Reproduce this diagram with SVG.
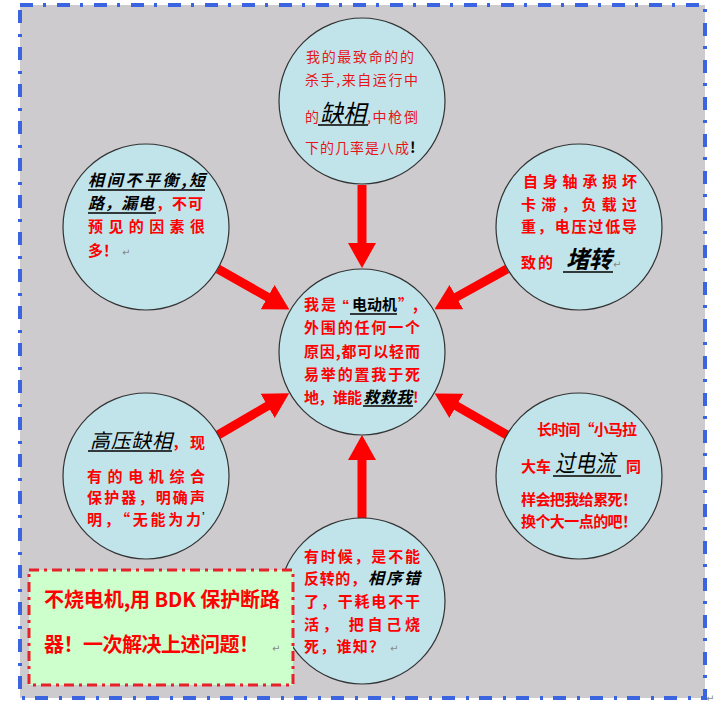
<svg xmlns="http://www.w3.org/2000/svg" width="724" height="713" viewBox="0 0 724 713">
<defs>
<style>
text{font-family:"Noto Sans CJK SC","Noto Sans CJK JP",sans-serif}
.c{fill:#c1e4eb;stroke:#333;stroke-width:1.2}
.r{fill:#f00;font-weight:bold;font-size:15px}
.rt{fill:#e8141a;font-size:14px}
.k{fill:#000;font-style:italic;font-weight:bold;font-size:16px}
.kb{fill:#000;font-style:italic;font-size:24px}
.p{fill:#888;font-size:10px;font-family:"DejaVu Sans",sans-serif}
.ul{stroke:#000;stroke-width:1.3}
.ar{stroke:#f00;stroke-width:9;fill:none;marker-end:url(#ah)}
.g{fill:#f00;font-weight:bold;font-size:20px}
</style>
<marker id="ah" viewBox="0 0 25 28" refX="1" refY="14" markerWidth="25" markerHeight="28" markerUnits="userSpaceOnUse" orient="auto">
<path d="M0,0 L25,14 L0,28 z" fill="#f00"/>
</marker>
</defs>
<rect x="0" y="0" width="724" height="713" fill="#fff"/>
<rect id="frame" x="20" y="5" width="685" height="693" fill="#cecbce" stroke="#3b64e0" stroke-width="4" stroke-dasharray="13 10 3 11"/>
<text class="p" x="706" y="702">↵</text>

<g id="connectors">
<line class="ar" x1="362" y1="185" x2="362" y2="244"/>
<line class="ar" x1="362" y1="518" x2="362" y2="459"/>
<line class="ar" x1="218" y1="269" x2="268.5" y2="297.6"/>
<line class="ar" x1="507" y1="269" x2="455.5" y2="297.6"/>
<line class="ar" x1="218" y1="435" x2="268.5" y2="405.4"/>
<line class="ar" x1="507" y1="435" x2="455.5" y2="405.4"/>
</g>

<g id="node-top">
<circle class="c" cx="362" cy="101" r="83"/>
<text class="rt" x="306" y="62" textLength="108" lengthAdjust="spacing">我的最致命的的</text>
<text class="rt" x="305" y="85" textLength="113" lengthAdjust="spacing">杀手,来自运行中</text>
<text class="rt" x="305" y="122">的</text>
<text class="kb" x="320" y="122" textLength="46" lengthAdjust="spacingAndGlyphs">缺相</text>
<line class="ul" x1="318" y1="125" x2="368" y2="125"/>
<text class="rt" x="367" y="122" textLength="51" lengthAdjust="spacing">,中枪倒</text>
<text class="rt" x="305" y="153" textLength="104" lengthAdjust="spacing">下的几率是八成</text>
<text x="410" y="153" font-size="15" font-weight="bold" fill="#000">!</text>
</g>

<g id="node-upper-left">
<circle class="c" cx="146" cy="227" r="83"/>
<text class="k" x="88" y="186" textLength="117" lengthAdjust="spacing">相间不平衡,短</text>
<line class="ul" x1="88" y1="190" x2="205" y2="190"/>
<text class="k" x="88" y="209" textLength="66" lengthAdjust="spacing">路，漏电</text>
<line class="ul" x1="88" y1="213" x2="156" y2="213"/>
<text class="r" x="156" y="209" textLength="47" lengthAdjust="spacing">，不可</text>
<text class="r" x="88" y="232" textLength="117" lengthAdjust="spacing">预见的因素很</text>
<text class="r" x="88" y="256">多！</text>
<text class="p" x="122" y="256">↵</text>
</g>

<g id="node-upper-right">
<circle class="c" cx="579" cy="227" r="83"/>
<text class="r" x="523" y="187" textLength="114" lengthAdjust="spacing">自身轴承损坏</text>
<text class="r" x="521" y="210" textLength="116" lengthAdjust="spacing">卡滞，负载过</text>
<text class="r" x="521" y="232" textLength="116" lengthAdjust="spacing">重，电压过低导</text>
<text class="r" x="521" y="268" textLength="32" lengthAdjust="spacing">致的</text>
<text class="kb" x="566" y="268" font-weight="bold" textLength="46" lengthAdjust="spacingAndGlyphs">堵转</text>
<line class="ul" x1="563" y1="272" x2="613" y2="272"/>
<text class="p" x="613" y="268">↵</text>
</g>

<g id="node-center">
<circle class="c" cx="362" cy="352" r="83"/>
<text class="r" x="304" y="310" textLength="32" lengthAdjust="spacing">我是</text>
<text x="342" y="310" font-size="15" font-weight="bold" fill="#f00"><tspan font-family="Liberation Sans, sans-serif">“</tspan><tspan x="352" fill="#000">电动机</tspan></text>
<line class="ul" x1="350" y1="314" x2="397" y2="314"/>
<text class="r" x="398" y="310">”,</text>
<text class="r" x="304" y="333" textLength="116" lengthAdjust="spacing">外围的任何一个</text>
<text class="r" x="304" y="357" textLength="116" lengthAdjust="spacing">原因,都可以轻而</text>
<text class="r" x="304" y="380" textLength="116" lengthAdjust="spacing">易举的置我于死</text>
<text class="r" x="304" y="403" textLength="58" lengthAdjust="spacing">地，谁能</text>
<text class="k" x="363" y="403" font-size="15" textLength="49" lengthAdjust="spacing">救救我</text>
<line class="ul" x1="363" y1="406" x2="413" y2="406"/>
<text class="r" x="413" y="403">!</text>
</g>

<g id="node-lower-left">
<circle class="c" cx="146" cy="476" r="83"/>
<text x="90" y="448" font-size="20" font-style="italic" fill="#000" textLength="82" lengthAdjust="spacing">高压缺相</text>
<line class="ul" x1="88" y1="451" x2="172" y2="451"/>
<text class="r" x="172" y="448" textLength="33" lengthAdjust="spacing">，现</text>
<text class="r" x="87" y="482" textLength="118" lengthAdjust="spacing">有的电机综合</text>
<text class="r" x="87" y="503" textLength="118" lengthAdjust="spacing">保护器，明确声</text>
<text class="r" x="87" y="525" textLength="114" lengthAdjust="spacing">明，“无能为力</text>
<text x="202" y="522" font-size="11" fill="#000">’</text>
</g>

<g id="node-lower-right">
<circle class="c" cx="579" cy="476" r="83"/>
<text class="r" x="537" y="435" textLength="100" lengthAdjust="spacing">长时间“小马拉</text>
<text class="r" x="521" y="472" textLength="30" lengthAdjust="spacing">大车</text>
<text class="kb" x="555" y="472" textLength="60" lengthAdjust="spacingAndGlyphs">过电流</text>
<line class="ul" x1="553" y1="476" x2="621" y2="476"/>
<text class="r" x="626" y="472">同</text>
<text class="r" x="521" y="505" textLength="116" lengthAdjust="spacing">样会把我给累死！</text>
<text class="r" x="521" y="527" textLength="116" lengthAdjust="spacing">换个大一点的吧！</text>
</g>

<g id="node-bottom">
<circle class="c" cx="362" cy="601" r="83"/>
<text class="r" x="304" y="562" textLength="116" lengthAdjust="spacing">有时候，是不能</text>
<text class="r" x="304" y="584" textLength="62" lengthAdjust="spacing">反转的，</text>
<text class="k" x="368" y="584" font-size="15" textLength="52" lengthAdjust="spacing">相序错</text>
<text class="r" x="304" y="607" textLength="116" lengthAdjust="spacing">了，干耗电不干</text>
<text class="r" x="304" y="630" textLength="116" lengthAdjust="spacing">活， 把自己烧</text>
<text class="r" x="304" y="652" textLength="80" lengthAdjust="spacing">死，谁知？</text>
<text class="p" x="390" y="652">↵</text>
</g>

<g id="node-note">
<rect x="29" y="570" width="264" height="115" fill="#ccffcc" stroke="#e8202a" stroke-width="3" stroke-dasharray="10 5 3 5"/>
<text class="g" x="44" y="607" textLength="236" lengthAdjust="spacing">不烧电机,用 BDK 保护断路</text>
<text class="g" x="44" y="652" textLength="215" lengthAdjust="spacing">器！一次解决上述问题！</text>
<text class="p" x="272" y="652">↵</text>
</g>
</svg>
